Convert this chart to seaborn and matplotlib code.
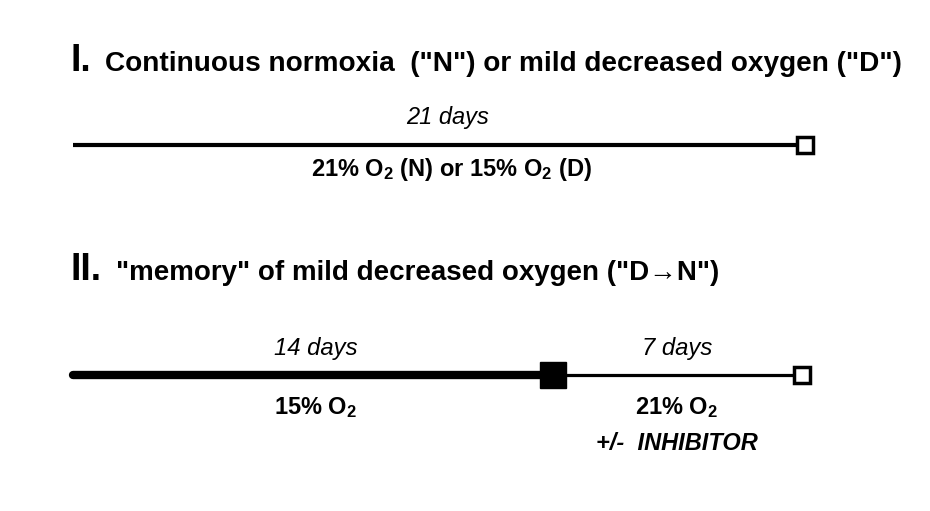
import matplotlib
matplotlib.use("Agg")
import matplotlib.pyplot as plt
import seaborn as sns
import pandas as pd

# timeline data (days)
total_days = [0, 21]
phase_days = [0, 14, 21]
row1_label_top = "21 days"
row1_label_bottom = "21% O$_2$ (N) or 15% O$_2$ (D)"
row2_top = ["14 days", "7 days"]
row2_bottom = ["15% O$_2$", "21% O$_2$"]
row2_extra = "+/-  INHIBITOR"
title1_num = "I."
title1_text = "Continuous normoxia  (\"N\") or mild decreased oxygen (\"D\")"
title2_num = "II."
title2_text = "\"memory\" of mild decreased oxygen (\"D\u2192N\")"

W, H = 930, 511
sns.set_theme(style="white")
plt.rcParams['font.family'] = ['Liberation Sans', 'DejaVu Sans']
plt.rcParams['mathtext.default'] = 'regular'
plt.rcParams['text.color'] = 'black'

fig = plt.figure(figsize=(W / 100, H / 100), dpi=100)
ax = fig.add_axes([0, 0, 1, 1])
x0_px, px_day = 73, 34.7
ax.set_xlim(-x0_px / px_day, (W - x0_px) / px_day)
ax.set_ylim(H, 0)
ax.axis('off')

row1, row2 = 145, 375

# row I
df1 = pd.DataFrame({'day': total_days, 'y': [row1, row1]})
sns.lineplot(data=df1, x='day', y='y', ax=ax, color='black', linewidth=3.0,
             solid_capstyle='butt')
ax.plot([total_days[-1] + 0.1], [row1], marker='s', ms=11, mfc='white',
        mec='black', mew=2.5, ls='none', zorder=5)
ax.text(sum(total_days) / 2 + 0.3, row1 - 21, row1_label_top, ha='center',
        va='baseline', fontsize=17, style='italic')
ax.text(sum(total_days) / 2 + 0.4, row1 + 31, row1_label_bottom, ha='center',
        va='baseline', fontsize=17, fontweight='bold')

# row II
df2a = pd.DataFrame({'day': phase_days[:2], 'y': [row2, row2]})
df2b = pd.DataFrame({'day': phase_days[1:], 'y': [row2, row2]})
sns.lineplot(data=df2a, x='day', y='y', ax=ax, color='black', linewidth=6.0,
             solid_capstyle='round')
sns.lineplot(data=df2b, x='day', y='y', ax=ax, color='black', linewidth=2.3,
             solid_capstyle='butt')
ax.plot([phase_days[1] - 0.17], [row2], marker='s', ms=19, color='black',
        ls='none', zorder=5)
ax.plot([phase_days[2]], [row2], marker='s', ms=11, mfc='white',
        mec='black', mew=2.5, ls='none', zorder=5)
for i in range(2):
    mid = (phase_days[i] + phase_days[i + 1]) / 2
    if i == 1:
        mid -= 0.1
    ax.text(mid, row2 - 20, row2_top[i], ha='center', va='baseline',
            fontsize=17.2, style='italic')
    ax.text(mid, row2 + 39, row2_bottom[i], ha='center', va='baseline',
            fontsize=17, fontweight='bold')
ax.text((phase_days[1] + phase_days[2]) / 2 - 0.1, row2 + 75, row2_extra,
        ha='center', va='baseline', fontsize=17, fontweight='bold',
        style='italic')

# titles
fig.text(70 / W, 1 - 71 / H, title1_num, fontsize=27, fontweight='bold',
         va='baseline')
fig.text(105 / W, 1 - 71 / H, title1_text, fontsize=20.2, fontweight='bold',
         va='baseline')
fig.text(70 / W, 1 - 280 / H, title2_num, fontsize=27, fontweight='bold',
         va='baseline')
fig.text(116 / W, 1 - 280 / H, title2_text, fontsize=20, fontweight='bold',
         va='baseline')

fig.savefig('out.png', dpi=100)
